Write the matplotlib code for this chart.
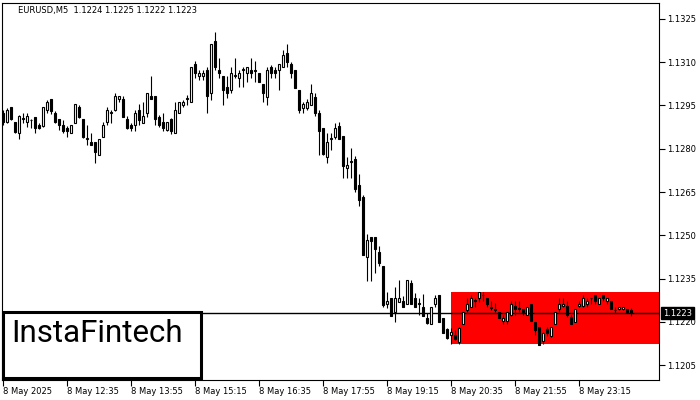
#!/usr/bin/env python3
import sys
import matplotlib
matplotlib.use('Agg')
import matplotlib.pyplot as plt
from matplotlib.patches import Rectangle
import numpy as np

### EURUSD M5 bars
symbol = 'EURUSD,M5'
opens = [
    1.12924, 1.12893, 1.12945, 1.12893, 1.12855, 1.12904, 1.12893, 1.12900, 1.12910, 1.12883,
    1.12879, 1.12935, 1.12973, 1.12924, 1.12904, 1.12883, 1.12872, 1.12855, 1.12890, 1.12945,
    1.12904, 1.12834, 1.12824, 1.12824, 1.12779, 1.12841, 1.12893, 1.12924, 1.12935, 1.12973,
    1.12973, 1.12904, 1.12883, 1.12883, 1.12935, 1.12890, 1.12924, 1.12983, 1.12983, 1.12910,
    1.12893, 1.12865, 1.12904, 1.12855, 1.12924, 1.12952, 1.12973, 1.12962, 1.13094, 1.13053,
    1.13053, 1.13073, 1.12994, 1.13174, 1.13073, 1.13053, 1.13014, 1.13004, 1.13053, 1.13046,
    1.13073, 1.13063, 1.13073, 1.13073, 1.13063, 1.13025, 1.12980, 1.13084, 1.13073, 1.13073,
    1.13084, 1.13132, 1.13094, 1.13073, 1.13004, 1.12942, 1.12942, 1.12952, 1.12980, 1.12924,
    1.12872, 1.12772, 1.12834, 1.12841, 1.12879, 1.12845, 1.12734, 1.12755, 1.12765, 1.12675,
    1.12633, 1.12426, 1.12495, 1.12495, 1.12443, 1.12394, 1.12263, 1.12284, 1.12235, 1.12270,
    1.12273, 1.12263, 1.12336, 1.12284, 1.12263, 1.12252, 1.12214, 1.12194, 1.12263, 1.12294,
    1.12214, 1.12176, 1.12155, 1.12155, 1.12131, 1.12194, 1.12242, 1.12252, 1.12273, 1.12284,
    1.12294, 1.12284, 1.12252, 1.12245, 1.12235, 1.12204, 1.12204, 1.12225, 1.12256, 1.12245,
    1.12245, 1.12225, 1.12263, 1.12200, 1.12183, 1.12135, 1.12176, 1.12152, 1.12194, 1.12245,
    1.12256, 1.12256, 1.12218, 1.12200, 1.12256, 1.12256, 1.12263, 1.12284, 1.12294, 1.12263,
    1.12294, 1.12273, 1.12273, 1.12242, 1.12245, 1.12245, 1.12245, 1.1224,
]
highs = [
    1.12935, 1.12942, 1.12945, 1.12893, 1.12917, 1.12924, 1.12924, 1.12904, 1.12910, 1.12890,
    1.12945, 1.12969, 1.12973, 1.12931, 1.12904, 1.12900, 1.12879, 1.12883, 1.12956, 1.12952,
    1.12904, 1.12883, 1.12855, 1.12824, 1.12834, 1.12893, 1.12945, 1.12935, 1.12994, 1.12983,
    1.12983, 1.12914, 1.12890, 1.12935, 1.12956, 1.12962, 1.12994, 1.13053, 1.12983, 1.12917,
    1.12924, 1.12893, 1.12907, 1.12962, 1.12962, 1.12969, 1.12987, 1.13084, 1.13105, 1.13073,
    1.13073, 1.13084, 1.13163, 1.13205, 1.13115, 1.13053, 1.13053, 1.13084, 1.13115, 1.13073,
    1.13084, 1.13084, 1.13115, 1.13105, 1.13063, 1.13025, 1.13084, 1.13091, 1.13084, 1.13094,
    1.13143, 1.13163, 1.13101, 1.13073, 1.13004, 1.12962, 1.12973, 1.13025, 1.12994, 1.12935,
    1.12872, 1.12855, 1.12855, 1.12890, 1.12893, 1.12845, 1.12772, 1.12803, 1.12775, 1.12713,
    1.12640, 1.12505, 1.12495, 1.12495, 1.12464, 1.12394, 1.12304, 1.12284, 1.12322, 1.12346,
    1.12290, 1.12346, 1.12346, 1.12301, 1.12284, 1.12297, 1.12232, 1.12252, 1.12294, 1.12294,
    1.12214, 1.12180, 1.12180, 1.12173, 1.12183, 1.12235, 1.12284, 1.12294, 1.12284, 1.12304,
    1.12304, 1.12284, 1.12273, 1.12266, 1.12235, 1.12225, 1.12235, 1.12273, 1.12273, 1.12273,
    1.12245, 1.12252, 1.12263, 1.12200, 1.12183, 1.12166, 1.12183, 1.12183, 1.12235, 1.12284,
    1.12284, 1.12273, 1.12225, 1.12245, 1.12273, 1.12294, 1.12284, 1.12284, 1.12294, 1.12284,
    1.12294, 1.12284, 1.12273, 1.12252, 1.12252, 1.12252, 1.12245, 1.1225,
]
lows = [
    1.12883, 1.12890, 1.12900, 1.12855, 1.12834, 1.12890, 1.12876, 1.12872, 1.12855, 1.12869,
    1.12876, 1.12924, 1.12921, 1.12890, 1.12865, 1.12855, 1.12841, 1.12855, 1.12890, 1.12907,
    1.12838, 1.12814, 1.12814, 1.12751, 1.12779, 1.12841, 1.12883, 1.12890, 1.12931, 1.12962,
    1.12910, 1.12869, 1.12862, 1.12862, 1.12883, 1.12890, 1.12910, 1.12973, 1.12883, 1.12876,
    1.12862, 1.12862, 1.12852, 1.12855, 1.12924, 1.12945, 1.12952, 1.12962, 1.13046, 1.13039,
    1.13039, 1.12924, 1.12969, 1.13073, 1.13046, 1.12952, 1.12976, 1.12994, 1.13046, 1.13014,
    1.13014, 1.13032, 1.13046, 1.13032, 1.13032, 1.12962, 1.12952, 1.13046, 1.13046, 1.13004,
    1.13084, 1.13084, 1.13046, 1.13011, 1.12924, 1.12924, 1.12935, 1.12952, 1.12914, 1.12779,
    1.12779, 1.12751, 1.12796, 1.12834, 1.12834, 1.12699, 1.12699, 1.12699, 1.12651, 1.12602,
    1.12433, 1.12342, 1.12342, 1.12370, 1.12394, 1.12252, 1.12249, 1.12221, 1.12200, 1.12270,
    1.12252, 1.12263, 1.12263, 1.12252, 1.12225, 1.12221, 1.12194, 1.12194, 1.12252, 1.12200,
    1.12162, 1.12142, 1.12124, 1.12138, 1.12124, 1.12194, 1.12235, 1.12252, 1.12252, 1.12270,
    1.12273, 1.12252, 1.12242, 1.12235, 1.12214, 1.12194, 1.12194, 1.12221, 1.12225, 1.12235,
    1.12225, 1.12225, 1.12204, 1.12155, 1.12121, 1.12124, 1.12152, 1.12148, 1.12194, 1.12235,
    1.12252, 1.12218, 1.12194, 1.12200, 1.12252, 1.12252, 1.12252, 1.12263, 1.12263, 1.12263,
    1.12273, 1.12263, 1.12245, 1.12232, 1.12242, 1.12242, 1.12232, 1.1222,
]
closes = [
    1.12893, 1.12935, 1.12904, 1.12859, 1.12914, 1.12907, 1.12914, 1.12901, 1.12872, 1.12872,
    1.12945, 1.12962, 1.12931, 1.12893, 1.12883, 1.12862, 1.12862, 1.12883, 1.12956, 1.12910,
    1.12841, 1.12836, 1.12814, 1.12789, 1.12834, 1.12883, 1.12935, 1.12926, 1.12983, 1.12983,
    1.12910, 1.12872, 1.12872, 1.12924, 1.12900, 1.12914, 1.12994, 1.12973, 1.12904, 1.12883,
    1.12872, 1.12893, 1.12862, 1.12935, 1.12962, 1.12962, 1.12975, 1.13084, 1.13063, 1.13063,
    1.13063, 1.12983, 1.13163, 1.13084, 1.13063, 1.13004, 1.12994, 1.13063, 1.13055, 1.13063,
    1.13075, 1.13084, 1.13063, 1.13071, 1.13032, 1.12994, 1.13073, 1.13063, 1.13063, 1.13094,
    1.13125, 1.13101, 1.13063, 1.13011, 1.12935, 1.12956, 1.12962, 1.12994, 1.12924, 1.12862,
    1.12782, 1.12824, 1.12836, 1.12872, 1.12834, 1.12741, 1.12744, 1.12757, 1.12661, 1.12623,
    1.12433, 1.12484, 1.12481, 1.12453, 1.12405, 1.12259, 1.12273, 1.12221, 1.12284, 1.12284,
    1.12252, 1.12346, 1.12263, 1.12252, 1.12265, 1.12221, 1.12197, 1.12252, 1.12284, 1.12200,
    1.12162, 1.12145, 1.12166, 1.12142, 1.12180, 1.12235, 1.12263, 1.12284, 1.12275, 1.12304,
    1.12292, 1.12263, 1.12250, 1.12243, 1.12214, 1.12214, 1.12235, 1.12263, 1.12245, 1.12247,
    1.12235, 1.12252, 1.12204, 1.12173, 1.12121, 1.12162, 1.12162, 1.12183, 1.12235, 1.12263,
    1.12263, 1.12225, 1.12194, 1.12245, 1.12263, 1.12284, 1.12273, 1.12282, 1.12273, 1.12284,
    1.12284, 1.12284, 1.12245, 1.12240, 1.12252, 1.12252, 1.12235, 1.1223,
]
time_labels = ['8 May 2025', '8 May 12:35', '8 May 13:55', '8 May 15:15', '8 May 16:35',
               '8 May 17:55', '8 May 19:15', '8 May 20:35', '8 May 21:55', '8 May 23:15']
label_every = 16
price_ticks = [1.1205, 1.1220, 1.1235, 1.1250, 1.1265, 1.1280, 1.1295, 1.1310, 1.1325]

### pattern (rectangle) found by the scanner
pattern_start = 112
pattern_top = 1.12304
pattern_bottom = 1.12124


def main():
    o = np.array(opens)
    h = np.array(highs)
    l = np.array(lows)
    c = np.array(closes)
    x = np.arange(len(c))

    fig = plt.figure(figsize=(7, 4), dpi=100)
    ax = fig.add_axes([2/700., 20/400., 657/700., 377/400.])
    ax.set_xlim(-0.25, 164)
    ax.set_ylim(1.11999, 1.13305)

    xmax = ax.get_xlim()[1]
    ax.add_patch(Rectangle((pattern_start, pattern_bottom), xmax - pattern_start,
                           pattern_top - pattern_bottom, facecolor='#ff0000',
                           edgecolor='none', zorder=1))
    ax.axhline(c[-1], color='black', lw=1.0, zorder=2)

    ### candles
    ax.vlines(x, l, h, color='black', lw=0.8, zorder=3)
    up = c >= o
    ax.bar(x[up], (c - o)[up], bottom=o[up], width=0.55, facecolor='white',
           edgecolor='black', lw=0.8, zorder=4)
    ax.bar(x[~up], (o - c)[~up], bottom=c[~up], width=0.55, facecolor='black',
           edgecolor='black', lw=0.8, zorder=4)

    ### axes
    for s in ax.spines.values():
        s.set_color('black')
        s.set_linewidth(0.8)
    ax.yaxis.tick_right()
    ax.set_yticks(price_ticks)
    ax.set_yticklabels(['%.4f' % v for v in price_ticks])
    ax.tick_params(axis='y', direction='out', length=4, width=0.8, pad=2, labelsize=6)
    ax.set_xticks(x[::label_every])
    ax.set_xticklabels(time_labels, ha='left')
    ax.tick_params(axis='x', direction='out', length=4, width=0.8, pad=1, labelsize=6)

    ax.text(1.006, c[-1], '%.4f' % c[-1], transform=ax.get_yaxis_transform(),
            color='white', fontsize=6, va='center', ha='left', clip_on=False, zorder=10,
            bbox=dict(boxstyle='square,pad=0.2', fc='black', ec='black'))

    fig.text(18/700., 1 - 11/400., '%s  %.4f %.4f %.4f %.4f' % (symbol, o[-1], h[-1], l[-1], c[-1]),
             fontsize=6, va='center', ha='left')

    ### logo
    fig.add_artist(Rectangle((3/700., 22/400.), 198/700., 66/400., transform=fig.transFigure,
                             facecolor='white', edgecolor='black', lw=2.2, zorder=20))
    fig.text(11/700., 1 - 334/400., 'InstaFintech', fontsize=22.5, family=['Roboto', 'DejaVu Sans'],
             va='center', ha='left', zorder=21)

    fig.savefig('out.png', dpi=100)


if __name__ == "__main__":
    sys.exit(main())
